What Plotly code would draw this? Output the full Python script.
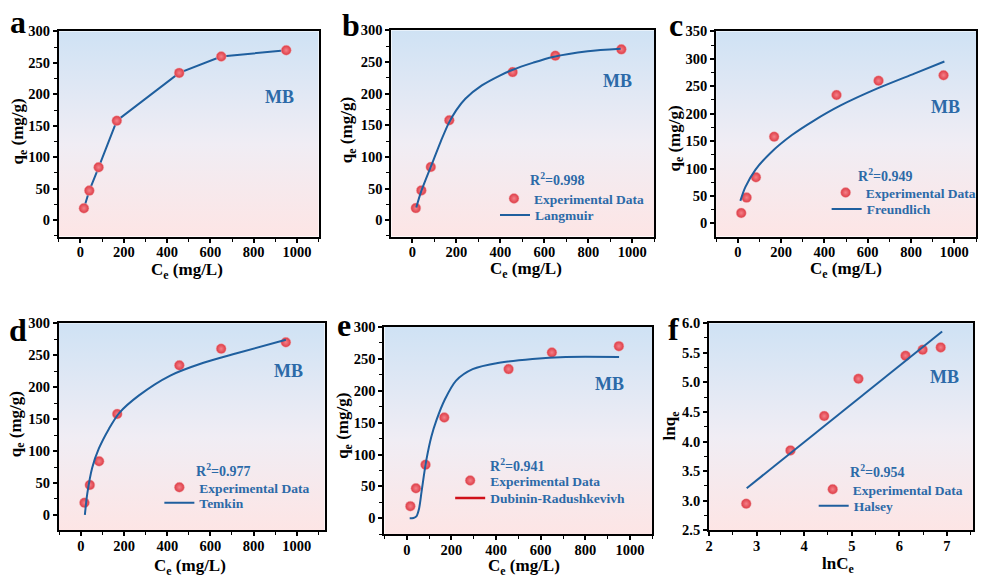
import base64
import plotly.graph_objects as go

# ---------------- data ----------------
Ce = [16, 41, 84, 168, 456, 650, 950]
qe = [19, 47, 84, 158, 234, 260, 270]

lnCe = [2.78, 3.71, 4.42, 5.14, 6.13, 6.49, 6.87]
lnqe = [2.95, 3.85, 4.43, 5.06, 5.45, 5.55, 5.59]

# fitted curves, points
lang_x = [18, 40, 86, 130, 165, 200, 241, 316, 400, 451, 550, 639, 797, 947]
lang_y = [20, 45, 86, 125, 153, 174, 192, 213, 229, 237, 249, 258, 267, 271]

freu_x = [12, 35, 82, 150, 250, 350, 475, 645, 815, 954]
freu_y = [41, 66, 98, 128, 161, 187, 215, 246, 273, 295]

temk_x = [18, 29, 52, 83, 130, 176, 269, 414, 568, 722, 950]
temk_y = [0, 33, 74, 104, 135, 159, 187, 218, 238, 253, 274]

dr_x = [13, 30, 43, 55, 66, 77, 88, 110, 133, 170, 221, 295, 414, 563, 712, 951]
dr_y = [0, 0.5, 3, 15, 41, 68, 92, 128, 154, 186, 216, 234, 244, 250, 253, 253]

hal_x = [2.79, 6.90]
hal_y = [3.21, 5.86]

r2_labels = ["0.998", "0.949", "0.977", "0.941", "0.954"]
fit_names = ["Langmuir", "Freundlich", "Temkin", "Dubinin-Radushkevivh", "Halsey"]
panel_letters = ["a", "b", "c", "d", "e", "f"]

# ---------------- styling ----------------
W, H = 983, 585
FONT = "Liberation Serif"
BLUE_TXT = "#2c6aa8"
LINE_BLUE = "#1f5f9e"
RED = "#dc3a44"


def px(x):
    return x / W


def py(y):
    return 1 - y / H


# panel pixel boxes: left, top, right, bottom
boxes = [
    (55, 24, 316, 235),
    (389, 23, 653, 235),
    (715, 24, 976, 235),
    (55, 324, 322, 537),
    (382, 328, 651, 541),
    (708, 324, 973, 537),
]
xranges = [[-100, 1100], [-95, 1100], [-100, 1100], [-103, 1130], [-100, 1100], [2, 7.55]]
yranges = [[-26, 300], [-26, 300], [-24, 350], [-24, 300], [-25, 300], [2.5, 6.0]]

fig = go.Figure()

marker_style = dict(
    size=10,
    color=RED,
    gradient=dict(type="radial", color="#f58088"),
    line=dict(width=0.5, color="#f0b0b4"),
)

# panel a
fig.add_trace(go.Scatter(x=Ce, y=qe, mode="lines+markers",
                         line=dict(color=LINE_BLUE, width=2),
                         marker=marker_style, showlegend=False,
                         xaxis="x", yaxis="y"))

fits = [
    (lang_x, lang_y, "x2", "y2"),
    (freu_x, freu_y, "x3", "y3"),
    (temk_x, temk_y, "x4", "y4"),
    (dr_x, dr_y, "x5", "y5"),
    (hal_x, hal_y, "x6", "y6"),
]

legend_cfg = {}
# marker legend center & line legend center (pixels) for each fit panel
leg_pos = [
    ((514, 196), (515, 213)),
    ((847, 190), (848, 207)),
    ((178, 493), (178, 509)),
    ((470, 486), (470, 504)),
    ((834, 495), (835, 512)),
]

lid = 2
for i, (fx, fy, xa, ya) in enumerate(fits):
    if i < 4:
        dx, dy = Ce, qe
    else:
        dx, dy = lnCe, lnqe
    exp_leg = f"legend{lid}"
    fit_leg = f"legend{lid + 1}"
    fig.add_trace(go.Scatter(x=dx, y=dy, mode="markers", marker=marker_style,
                             name="Experimental Data", legend=exp_leg,
                             xaxis=xa, yaxis=ya))
    if fit_names[i].startswith("Dubinin"):
        fig.add_trace(go.Scatter(x=fx, y=fy, mode="lines",
                                 line=dict(color=LINE_BLUE, width=2, shape="spline", smoothing=0.8),
                                 showlegend=False, xaxis=xa, yaxis=ya))
        fig.add_trace(go.Scatter(x=[None], y=[None], mode="lines",
                                 line=dict(color="#d0101a", width=2.5),
                                 name=fit_names[i], legend=fit_leg,
                                 xaxis=xa, yaxis=ya))
    else:
        shape = "linear" if len(fx) == 2 else "spline"
        fig.add_trace(go.Scatter(x=fx, y=fy, mode="lines",
                                 line=dict(color=LINE_BLUE, width=2, shape=shape, smoothing=0.8),
                                 name=fit_names[i], legend=fit_leg,
                                 xaxis=xa, yaxis=ya))
    (mx, my), (lx, ly) = leg_pos[i]
    for key, (cx, cy) in ((exp_leg, (mx, my)), (fit_leg, (lx, ly))):
        legend_cfg[key] = dict(
            x=px(cx - 22), y=py(cy), xanchor="left", yanchor="middle",
            xref="paper", yref="paper",
            bgcolor="rgba(0,0,0,0)", borderwidth=0,
            font=dict(family=FONT, size=13.5, color=BLUE_TXT, weight="bold"),
            itemwidth=30,
        )
    lid += 2

# ---------------- axes ----------------
tickfont = dict(family=FONT, size=14.5, color="black", weight="bold")
layout = {}
for k, (l, t, r, b) in enumerate(boxes):
    sfx = "" if k == 0 else str(k + 1)
    is_f = k == 5
    xdt = 1 if is_f else 200
    ydt = 0.5 if is_f else 50
    layout[f"xaxis{sfx}"] = dict(
        domain=[px(l), px(r)], range=xranges[k], anchor=f"y{sfx}",
        showline=True, linecolor="black", linewidth=2, mirror=True,
        ticks="outside", ticklen=4, tickwidth=1.5, tickcolor="black",
        dtick=xdt, tick0=0, showgrid=False, zeroline=False,
        minor=dict(ticks="outside", ticklen=3, tickwidth=1.2, tickcolor="black", dtick=xdt / 2),
        tickfont=tickfont, ticklabelstandoff=-3,
    )
    layout[f"yaxis{sfx}"] = dict(
        domain=[py(b), py(t)], range=yranges[k], anchor=f"x{sfx}",
        showline=True, linecolor="black", linewidth=2, mirror=True,
        ticks="outside", ticklen=4, tickwidth=1.5, tickcolor="black",
        dtick=ydt, tick0=0, showgrid=False, zeroline=False,
        minor=dict(ticks="outside", ticklen=3, tickwidth=1.2, tickcolor="black", dtick=ydt / 2),
        tickfont=tickfont,
        tickformat=".1f" if is_f else None,
    )

# ---------------- background gradient images ----------------
svg = ('<svg xmlns="http://www.w3.org/2000/svg" width="10" height="100" preserveAspectRatio="none">'
       '<defs><linearGradient id="g" x1="0" y1="0" x2="0" y2="1">'
       '<stop offset="0" stop-color="#cfe2f4"/><stop offset="0.55" stop-color="#f0edf4"/>'
       '<stop offset="1" stop-color="#fde5e5"/></linearGradient></defs>'
       '<rect width="10" height="100" fill="url(#g)"/></svg>')
uri = "data:image/svg+xml;base64," + base64.b64encode(svg.encode()).decode()
images = []
for k in range(6):
    sfx = "" if k == 0 else str(k + 1)
    images.append(dict(source=uri, xref=f"x{sfx} domain", yref=f"y{sfx} domain",
                       x=0, y=1, sizex=1, sizey=1, xanchor="left", yanchor="top",
                       sizing="stretch", layer="below"))

# ---------------- annotations ----------------
ann = []


def text(x, y, s, size, color="black", xanchor="center", angle=0):
    ann.append(dict(x=px(x), y=py(y), xref="paper", yref="paper", text=s,
                    showarrow=False, xanchor=xanchor, yanchor="middle", textangle=angle,
                    font=dict(family=FONT, size=size, color=color, weight="bold")))


letter_pos = [(14, 14), (348, 17), (675, 17), (14, 331), (341, 326), (672, 330)]
for s, (x, y) in zip(panel_letters, letter_pos):
    text(x, y, s, 32)

xt_pos = [(184, 270), (524, 269), (845, 269), (187, 575), (522, 575), (837, 573)]
yt_pos = [(15, 127), (345, 126), (675, 134), (13, 428), (342, 430), (670, 430)]
for k in range(6):
    if k == 5:
        text(*xt_pos[k], "lnC<sub>e</sub>", 17)
        text(*yt_pos[k], "lnq<sub>e</sub>", 17, angle=-90)
    else:
        text(*xt_pos[k], "C<sub>e</sub> (mg/L)", 17)
        text(*yt_pos[k], "q<sub>e</sub> (mg/g)", 17, angle=-90)

mb_pos = [(277, 92), (616, 75), (945, 102), (286, 373), (608, 387), (944, 379)]
for (x, y) in mb_pos:
    text(x, y, "MB", 18, BLUE_TXT)

r2_pos = [(526, 176), (855, 172), (191, 475), (486, 470), (847, 476)]
for lab, (x, y) in zip(r2_labels, r2_pos):
    text(x, y, f"R<sup>2</sup>=" + lab, 14, BLUE_TXT, xanchor="left")

fig.update_layout(
    width=W, height=H, margin=dict(l=0, r=0, t=0, b=0),
    paper_bgcolor="white", plot_bgcolor="rgba(0,0,0,0)",
    images=images, annotations=ann, **layout, **legend_cfg,
)

fig.write_html("out.html")
